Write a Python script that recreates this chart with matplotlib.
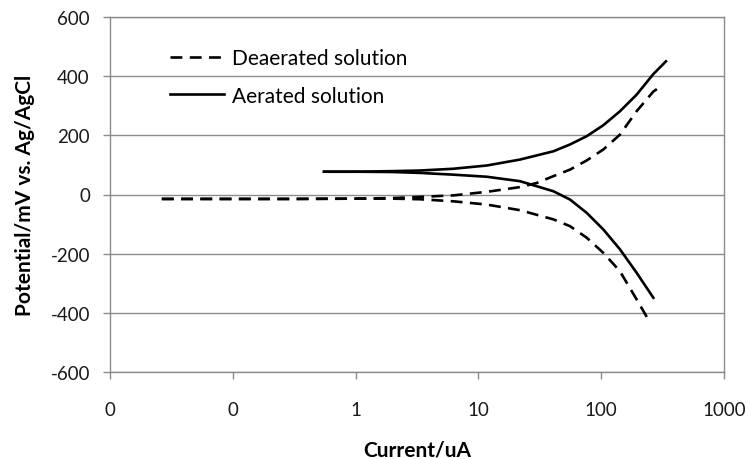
import matplotlib
matplotlib.use("Agg")
import matplotlib.pyplot as plt
from matplotlib.ticker import FixedLocator, FixedFormatter, NullLocator

plt.rcParams['font.family'] = ['Lato', 'DejaVu Sans']
plt.rcParams['axes.unicode_minus'] = False

# Deaerated solution (dashed)
deaer_anodic_I = [0.0264, 0.1, 0.3, 1, 2, 3.34, 6.25, 11.7, 21.8, 29.9, 40.8, 55.7, 76.2, 104, 142, 194, 266, 305]
deaer_anodic_E = [-15, -15, -15, -14, -12, -8, -3, 9, 25, 39, 62, 84, 115, 152, 202, 281, 348, 365]
deaer_cath_I = [0.0264, 0.1, 0.3, 1, 2, 3.34, 6.25, 11.7, 21.8, 40.8, 55.7, 76.2, 104, 142, 194, 252]
deaer_cath_E = [-15, -15, -15, -14, -14, -16, -23, -34, -53, -84, -107, -146, -197, -259, -354, -435]

# Aerated solution (solid)
aer_anodic_I = [0.553, 1, 2, 3.34, 6.25, 11.7, 21.8, 40.8, 55.7, 76.2, 104, 142, 194, 266, 337]
aer_anodic_E = [77, 77, 79, 81, 87, 98, 118, 146, 169, 197, 234, 281, 337, 407, 450]
aer_cath_I = [0.553, 1, 2, 3.34, 6.25, 11.7, 21.8, 40.8, 55.7, 76.2, 104, 142, 194, 266]
aer_cath_E = [77, 77, 76, 73, 67, 60, 45, 11, -17, -62, -118, -185, -264, -349]

x_ticks = [0.01, 0.1, 1, 10, 100, 1000]
x_tick_labels = ["0", "0", "1", "10", "100", "1000"]
y_ticks = [-600, -400, -200, 0, 200, 400, 600]

fig = plt.figure(figsize=(7.5, 4.6), dpi=100)
ax = fig.add_axes([0.1467, 0.189, 0.8186, 0.772])

grid_c = "#8c8c8c"
lw = 1.9
dash = (4.5, 2.8)

ax.plot(deaer_anodic_I, deaer_anodic_E, color="black", lw=lw, ls=(0, dash),
        label="Deaerated solution", solid_joinstyle="round")
ax.plot(deaer_cath_I, deaer_cath_E, color="black", lw=lw, ls=(0, dash))
ax.plot(aer_anodic_I, aer_anodic_E, color="black", lw=lw, label="Aerated solution",
        solid_joinstyle="round")
ax.plot(aer_cath_I, aer_cath_E, color="black", lw=lw, solid_joinstyle="round")

ax.set_xscale("log")
ax.set_xlim(0.01, 1000)
ax.set_ylim(-600, 600)
ax.xaxis.set_major_locator(FixedLocator(x_ticks))
ax.xaxis.set_major_formatter(FixedFormatter(x_tick_labels))
ax.xaxis.set_minor_locator(NullLocator())
ax.set_yticks(y_ticks)

for y in y_ticks:
    ax.axhline(y, color=grid_c, lw=1.0, zorder=0)

for s in ax.spines.values():
    s.set_color(grid_c)
    s.set_linewidth(1.0)

ax.tick_params(axis="both", colors=grid_c, labelcolor="#1a1a1a", labelsize=13.5,
               length=5, direction="out", width=1.0)
ax.tick_params(axis="x", pad=16)
ax.tick_params(axis="y", pad=9.5)

ax.set_xlabel("Current/uA", fontsize=15, fontweight="bold", labelpad=15)
ax.set_ylabel("Potential/mV vs. Ag/AgCl", fontsize=15, fontweight="bold", labelpad=11)

leg = ax.legend(loc="upper left", bbox_to_anchor=(0.098, 0.913), frameon=False,
                fontsize=15, borderpad=0, borderaxespad=0,
                handlelength=2.6, handletextpad=0.35, labelspacing=0.85)

fig.savefig("out.png", dpi=100)
